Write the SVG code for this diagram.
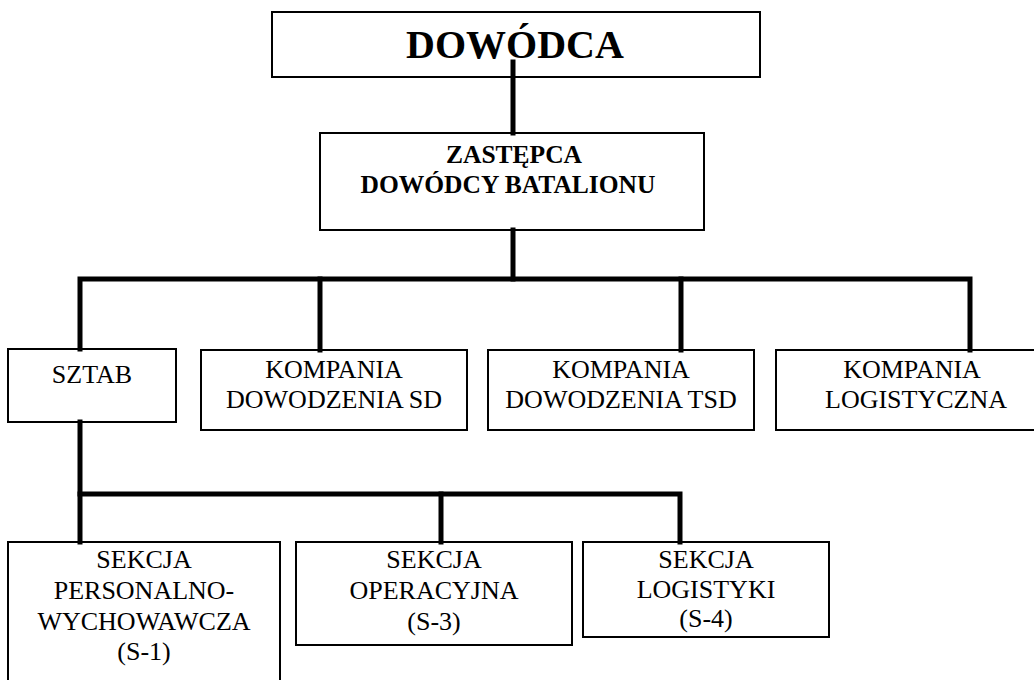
<svg xmlns="http://www.w3.org/2000/svg" width="1034" height="680" viewBox="0 0 1034 680">
<style>
.box{fill:#fff;stroke:#000;stroke-width:2}
.t{font-family:'Liberation Serif','Times New Roman',Tinos,'DejaVu Serif',serif;font-size:26px;text-anchor:middle;fill:#000}
.b{font-family:'Liberation Serif','Times New Roman',Tinos,'DejaVu Serif',serif;font-weight:bold;text-anchor:middle;fill:#000}
.c{stroke:#000;stroke-width:5;fill:none;stroke-linecap:square}
</style>
<rect width="1034" height="680" fill="#fff"/>
<g id="dowodca">
<rect class="box" x="272" y="12" width="488" height="65"/>
<text class="b" x="515" y="58" font-size="40">DOWÓDCA</text>
</g>
<g id="zastepca">
<rect class="box" x="320" y="133" width="384" height="97"/>
<text class="b" x="514" y="163" font-size="25.5">ZASTĘPCA</text>
<text class="b" x="508" y="193" font-size="25.5">DOWÓDCY BATALIONU</text>
</g>
<g id="sztab">
<rect class="box" x="8" y="349" width="168" height="73"/>
<text class="t" x="92" y="383">SZTAB</text>
</g>
<g id="kompania-sd">
<rect class="box" x="201" y="350" width="266" height="80"/>
<text class="t" x="334" y="378">KOMPANIA</text>
<text class="t" x="334" y="408">DOWODZENIA SD</text>
</g>
<g id="kompania-tsd">
<rect class="box" x="488" y="350" width="266" height="80"/>
<text class="t" x="621" y="378">KOMPANIA</text>
<text class="t" x="621" y="408">DOWODZENIA TSD</text>
</g>
<g id="kompania-log">
<rect class="box" x="776" y="350" width="272" height="80"/>
<text class="t" x="912" y="378">KOMPANIA</text>
<text class="t" x="916" y="408">LOGISTYCZNA</text>
</g>
<g id="sekcja-s1">
<rect class="box" x="8" y="542" width="272" height="150"/>
<text class="t" x="144" y="568">SEKCJA</text>
<text class="t" x="144" y="599">PERSONALNO-</text>
<text class="t" x="144" y="630">WYCHOWAWCZA</text>
<text class="t" x="144" y="660">(S-1)</text>
</g>
<g id="sekcja-s3">
<rect class="box" x="296" y="542" width="276" height="103"/>
<text class="t" x="434" y="568">SEKCJA</text>
<text class="t" x="434" y="599">OPERACYJNA</text>
<text class="t" x="434" y="630">(S-3)</text>
</g>
<g id="sekcja-s4">
<rect class="box" x="583" y="542" width="246" height="95"/>
<text class="t" x="706" y="568">SEKCJA</text>
<text class="t" x="706" y="598">LOGISTYKI</text>
<text class="t" x="706" y="627">(S-4)</text>
</g>
<g id="connectors">
<path class="c" d="M513 62V133"/>
<path class="c" d="M513 230V279"/>
<path class="c" d="M80 349V279H970V350"/>
<path class="c" d="M320 279V350"/>
<path class="c" d="M681 279V350"/>
<path class="c" d="M80 422V542"/>
<path class="c" d="M80 494H680V542"/>
<path class="c" d="M441 494V542"/>
</g>
</svg>
